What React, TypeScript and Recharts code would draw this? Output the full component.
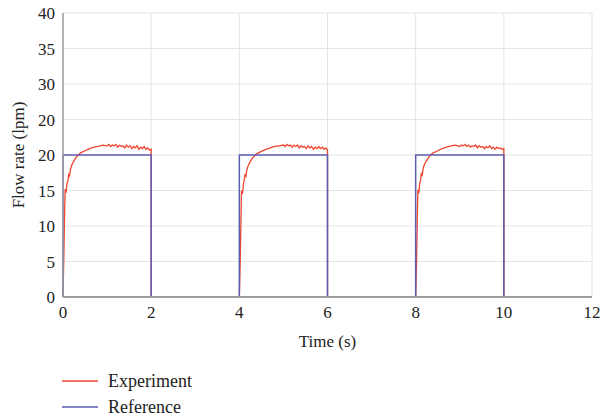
import { LineChart, Line, XAxis, YAxis, CartesianGrid } from "recharts";

const FONT = "'Liberation Serif', 'DejaVu Serif', serif";
const RED = "#f0462f";
const BLUE = "#5c5cb4";

const X_TICKS = [0, 2, 4, 6, 8, 10, 12];
const Y_TICKS = [0, 5, 10, 15, 20, 25, 30, 35, 40];
// the original figure labels the 25 tick as "20"
const Y_TICK_LABELS = ["0", "5", "10", "15", "20", "20", "30", "35", "40"];

// reference square wave (time, flow)
const REF_T = [0, 0, 2, 2, 4, 4, 6, 6, 8, 8, 10, 10, 12];
const REF_V = [0, 20, 20, 0, 0, 20, 20, 0, 0, 20, 20, 0, 0];

// sample times within one pulse, relative to its start
const PULSE_T = [
  0, 0.02, 0.04, 0.05, 0.07, 0.09, 0.11, 0.13, 0.15, 0.17, 0.2, 0.25, 0.3,
  0.35, 0.4, 0.5, 0.6, 0.7, 0.8, 0.9, 1.0, 1.04, 1.08, 1.12, 1.16, 1.2, 1.24,
  1.28, 1.32, 1.36, 1.4, 1.44, 1.48, 1.52, 1.56, 1.6, 1.64, 1.68, 1.72, 1.76,
  1.8, 1.84, 1.88, 1.92, 1.96, 2.0, 2.0,
];
const PULSE_START = [0, 4, 8];

const EXP_1 = [
  0, 6, 13, 15.2, 14.7, 16.0, 16.3, 17.4, 17.1, 18.0, 18.6, 19.2, 19.7, 20.0,
  20.3, 20.6, 20.9, 21.1, 21.2, 21.4, 21.3, 21.5, 21.2, 21.4, 21.3, 21.5, 21.1,
  21.4, 21.2, 21.3, 21.0, 21.4, 21.1, 21.3, 20.9, 21.2, 21.0, 21.3, 20.8, 21.1,
  20.9, 21.2, 20.8, 21.0, 20.7, 20.8, 0,
];
const EXP_2 = [
  0, 5, 12, 15.0, 14.5, 15.8, 16.5, 17.2, 17.0, 17.9, 18.5, 19.1, 19.6, 19.9,
  20.2, 20.5, 20.8, 21.0, 21.2, 21.3, 21.4, 21.2, 21.5, 21.3, 21.4, 21.1, 21.4,
  21.2, 21.4, 21.0, 21.3, 21.1, 21.2, 20.9, 21.3, 21.0, 21.2, 20.8, 21.1, 20.9,
  21.2, 20.9, 21.1, 20.8, 21.0, 20.7, 0,
];
const EXP_3 = [
  0, 5, 12, 15.1, 14.6, 15.9, 16.4, 17.5, 17.2, 18.1, 18.7, 19.2, 19.7, 20.1,
  20.3, 20.6, 20.9, 21.1, 21.3, 21.4, 21.2, 21.4, 21.3, 21.5, 21.2, 21.4, 21.1,
  21.3, 21.2, 21.4, 21.0, 21.3, 21.1, 21.2, 20.9, 21.2, 21.0, 21.3, 20.9, 21.1,
  20.8, 21.1, 20.9, 21.0, 20.8, 20.9, 0,
];
const EXP_PULSES = [EXP_1, EXP_2, EXP_3];

const refData = REF_T.map((t, i) => ({ t, v: REF_V[i] }));

const expData = [
  ...EXP_PULSES.flatMap((vals, p) =>
    PULSE_T.map((t, i) => ({ t: PULSE_START[p] + t, v: vals[i] }))
  ),
  { t: 12, v: 0 },
];

const labelStyle = { fontSize: 17, fill: "#222", fontFamily: FONT };

function XTick({ x, y, payload }: any) {
  return (
    <text x={x} y={y + 13} textAnchor="middle" fontFamily={FONT} fontSize={17} fill="#222">
      {payload.value}
    </text>
  );
}

function YTick({ x, y, payload, index }: any) {
  return (
    <text x={x} y={y + 6} textAnchor="end" fontFamily={FONT} fontSize={17} fill="#222">
      {Y_TICK_LABELS[index] ?? payload.value}
    </text>
  );
}

function LegendRow({ color, label }: { color: string; label: string }) {
  return (
    <div style={{ display: "flex", alignItems: "center", height: 26 }}>
      <svg width={36} height={4} style={{ marginRight: 10 }}>
        <line x1={0} y1={2} x2={36} y2={2} stroke={color} strokeWidth={1.5} />
      </svg>
      <span style={{ fontFamily: FONT, fontSize: 18, color: "#222" }}>{label}</span>
    </div>
  );
}

export default function App() {
  return (
    <div
      style={{
        position: "absolute",
        left: 0,
        top: 0,
        width: 600,
        height: 419,
        background: "#fff",
        fontFamily: FONT,
      }}
    >
      <LineChart
        width={600}
        height={419}
        margin={{ top: 13, right: 8, left: 0, bottom: 72 }}
      >
        <CartesianGrid stroke="#e4e4e4" strokeWidth={1} />
        <XAxis
          type="number"
          dataKey="t"
          domain={[0, 12]}
          ticks={X_TICKS}
          tickLine={false}
          axisLine={{ stroke: "#9e9e9e", strokeWidth: 2 }}
          tick={<XTick />}
          height={50}
          allowDuplicatedCategory={false}
          label={{ value: "Time (s)", position: "insideBottom", offset: 0, style: labelStyle }}
        />
        <YAxis
          type="number"
          domain={[0, 40]}
          ticks={Y_TICKS}
          tickLine={false}
          axisLine={{ stroke: "#9e9e9e", strokeWidth: 1.5 }}
          tick={<YTick />}
          width={63}
          label={{
            value: "Flow rate (lpm)",
            angle: -90,
            position: "center",
            dx: -14,
            style: { ...labelStyle, textAnchor: "middle" },
          }}
        />
        <Line
          data={expData}
          dataKey="v"
          type="linear"
          stroke={RED}
          strokeWidth={1.3}
          dot={false}
          isAnimationActive={false}
        />
        <Line
          data={refData}
          dataKey="v"
          type="linear"
          stroke={BLUE}
          strokeWidth={1.5}
          dot={false}
          isAnimationActive={false}
        />
      </LineChart>
      <div style={{ position: "absolute", left: 62, top: 368 }}>
        <LegendRow color={RED} label="Experiment" />
        <LegendRow color={BLUE} label="Reference" />
      </div>
    </div>
  );
}
